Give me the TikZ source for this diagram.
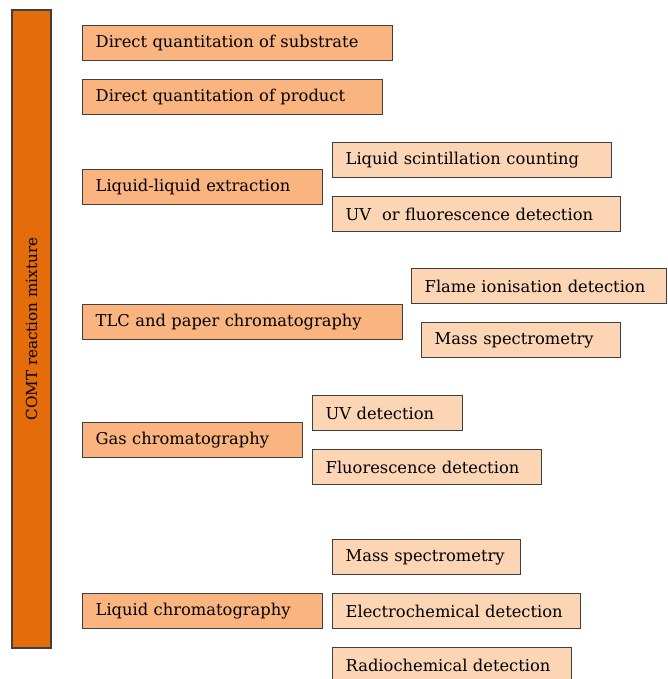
\documentclass[tikz,border=0pt]{standalone}
\usepackage{fontspec}
\setmainfont{DejaVu Serif}
\definecolor{barfill}{HTML}{E46C0A}
\definecolor{methodfill}{HTML}{FAB47F}
\definecolor{detectfill}{HTML}{FCD5B5}
\definecolor{boxline}{HTML}{3F3F3F}
\tikzset{
	bar/.style={draw=boxline, fill=barfill, line width=1.4pt, rotate=90, inner sep=0pt, font=\fontsize{15.2}{18}\selectfont},
	method/.style={draw=boxline, fill=methodfill, line width=1.4pt, anchor=north west, minimum height=35pt, inner xsep=13pt, inner ysep=0pt, align=left, font=\fontsize{16.3}{19}\selectfont},
	detect/.style={method, fill=detectfill},
}
\begin{document}
\begin{tikzpicture}[x=1pt,y=-1pt]
	\useasboundingbox (0,0) rectangle (667,679);
	
	\node[bar, minimum width=638pt, minimum height=39pt] (comt) at (31.5,329) {COMT reaction mixture};
	
	\node[method, text width=284pt] (substr) at (82,25) {Direct quantitation of substrate};
	\node[method, text width=274pt] (prod) at (82,79) {Direct quantitation of product};
	
	\node[method, text width=214pt] (lle) at (82,169) {Liquid-liquid extraction};
	\node[detect, text width=253pt] (lsc) at (332,142) {Liquid scintillation counting};
	\node[detect, text width=262pt] (uvfl) at (332,196) {UV\ \ or fluorescence detection};
	
	\node[method, text width=294pt] (tlc) at (82,304) {TLC and paper chromatography};
	\node[detect, text width=229pt] (fid) at (411,268) {Flame ionisation detection};
	\node[detect, text width=173pt] (tlcms) at (421,322) {Mass spectrometry};
	
	\node[method, text width=194pt] (gc) at (82,422) {Gas chromatography};
	\node[detect, text width=124pt] (gcuv) at (312,395) {UV detection};
	\node[detect, text width=203pt] (gcfl) at (312,449) {Fluorescence detection};
	
	\node[method, text width=214pt] (lc) at (82,593) {Liquid chromatography};
	\node[detect, text width=162pt] (lcms) at (332,539) {Mass spectrometry};
	\node[detect, text width=222pt] (ecd) at (332,593) {Electrochemical detection};
	\node[detect, text width=213pt] (rcd) at (332,647) {Radiochemical detection};
	
\end{tikzpicture}
\end{document}
